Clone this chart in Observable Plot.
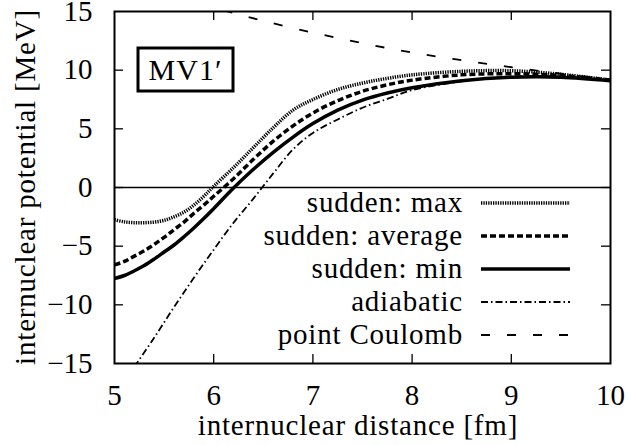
<!DOCTYPE html>
<html><head><meta charset="utf-8">
<script src="https://cdn.jsdelivr.net/npm/d3@7"></script>
<script src="https://cdn.jsdelivr.net/npm/@observablehq/plot@0.6"></script>
<style>
body{margin:0;background:#fff}
#chart svg, #chart svg text { font-family: "Liberation Serif", serif !important; }
</style>
</head><body><div id="chart"></div>
<script>
// ---- data ----
const xTicks = [5, 6, 7, 8, 9, 10];
const yTicks = [-15, -10, -5, 0, 5, 10, 15];

const rSudden = [5.0, 5.1, 5.2, 5.3, 5.4, 5.5, 5.6, 5.7, 5.8, 5.9, 6.0, 6.2, 6.4, 6.6, 6.8, 7.0, 7.25, 7.5, 7.75, 8.0, 8.5, 9.0, 9.5, 10.0];
const vMax     = [-2.75, -2.93, -3.0, -3.0, -2.95, -2.8, -2.5, -2.1, -1.5, -0.75, 0.1, 1.7, 3.4, 5.1, 6.6, 7.5, 8.35, 8.9, 9.3, 9.6, 9.9, 9.95, 9.65, 9.15];
const vAverage = [-6.6, -6.3, -5.85, -5.4, -4.85, -4.25, -3.6, -2.95, -2.2, -1.5, -0.75, 0.75, 2.4, 3.95, 5.25, 6.35, 7.4, 8.2, 8.75, 9.15, 9.6, 9.7, 9.55, 9.15];
const vMin     = [-7.75, -7.5, -7.1, -6.65, -6.1, -5.5, -4.9, -4.2, -3.45, -2.65, -1.8, -0.05, 1.55, 3.0, 4.3, 5.45, 6.6, 7.45, 8.05, 8.5, 9.1, 9.4, 9.4, 9.1];

const rAdiabatic = [5.2, 5.4, 5.6, 5.8, 6.0, 6.2, 6.4, 6.6, 6.8, 7.0, 7.25, 7.5, 7.75, 8.0, 8.5, 9.0, 9.5, 10.0];
const vAdiabatic = [-15.3, -12.8, -10.2, -7.7, -5.3, -3.0, -0.95, 1.2, 3.25, 4.65, 5.8, 6.8, 7.55, 8.3, 9.05, 9.45, 9.45, 9.1];

const rCoulomb = [6.1, 6.5, 7.0, 7.5, 8.0, 8.5, 9.0, 9.5, 10.0];
const vCoulomb = [15.1, 14.2, 13.2, 12.3, 11.5, 10.85, 10.25, 9.7, 9.2];

const seriesNames = ["sudden: max", "sudden: average", "sudden: min", "adiabatic", "point Coulomb"];
const xLabel = "internuclear distance [fm]";
const yLabel = "internuclear potential [MeV]";
const boxLabel = "MV1\u2032";

// ---- styles ----
const styles = {
  "sudden: max":     {strokeWidth: 3.5, strokeDasharray: "1.3,1.1"},
  "sudden: average": {strokeWidth: 3.5, strokeDasharray: "6,3"},
  "sudden: min":     {strokeWidth: 3.5, strokeDasharray: null},
  "adiabatic":       {strokeWidth: 1.8, strokeDasharray: "7,3,1.5,3"},
  "point Coulomb":   {strokeWidth: 1.8, strokeDasharray: "9,17"}
};

const rows = [];
rSudden.forEach((r, i) => rows.push({r, v: vMax[i], s: seriesNames[0]}));
rSudden.forEach((r, i) => rows.push({r, v: vAverage[i], s: seriesNames[1]}));
rSudden.forEach((r, i) => rows.push({r, v: vMin[i], s: seriesNames[2]}));
rAdiabatic.forEach((r, i) => rows.push({r, v: vAdiabatic[i], s: seriesNames[3]}));
rCoulomb.forEach((r, i) => rows.push({r, v: vCoulomb[i], s: seriesNames[4]}));

const W = 631, H = 446, ML = 114, MR = 21, MT = 11, MB = 83;
const FW = W - ML - MR, FH = H - MT - MB;
const FONT = "Liberation Serif, serif";

const lineMarks = seriesNames.map(name => Plot.line(rows.filter(d => d.s === name), {
  x: "r", y: "v", stroke: "black", curve: "catmull-rom", clip: true,
  strokeLinecap: "butt", strokeLinejoin: "round",
  strokeWidth: styles[name].strokeWidth,
  strokeDasharray: styles[name].strokeDasharray || undefined
}));

const plot = Plot.plot({
  width: W, height: H,
  marginLeft: ML, marginRight: MR, marginTop: MT, marginBottom: MB,
  style: {fontFamily: FONT, fontSize: "29px", color: "black", background: "white"},
  x: {domain: [5, 10], ticks: xTicks},
  y: {domain: [-15, 15], ticks: yTicks},
  marks: [
    Plot.ruleY([0], {stroke: "black", strokeWidth: 1.3}),
    ...lineMarks,
    Plot.tickX(xTicks.slice(1, -1), {x: d => d, stroke: "black", strokeWidth: 1.3, insetTop: FH - 9}),
    Plot.tickX(xTicks.slice(1, -1), {x: d => d, stroke: "black", strokeWidth: 1.3, insetBottom: FH - 9}),
    Plot.tickY(yTicks.slice(1, -1), {y: d => d, stroke: "black", strokeWidth: 1.3, insetRight: FW - 9}),
    Plot.tickY(yTicks.slice(1, -1), {y: d => d, stroke: "black", strokeWidth: 1.3, insetLeft: FW - 9}),
    Plot.frame({stroke: "black", strokeWidth: 2}),
    Plot.axisX(xTicks, {tickSize: 0, tickPadding: 21, label: null, fontVariant: "normal"}),
    Plot.axisY(yTicks, {tickSize: 0, tickPadding: 22, label: null, fontVariant: "normal"})
  ]
});

const svg = d3.select(plot);

// axis titles
svg.append("text")
  .attr("x", 358).attr("y", 435)
  .attr("text-anchor", "middle")
  .attr("font-family", FONT).attr("font-size", 29)
  .style("letter-spacing", "0.8px")
  .text(xLabel);
svg.append("text")
  .attr("transform", "translate(35,187) rotate(-90)")
  .attr("text-anchor", "middle")
  .attr("font-family", FONT).attr("font-size", 29)
  .style("letter-spacing", "0.8px")
  .text(yLabel);

// boxed model label
svg.append("rect")
  .attr("x", 138).attr("y", 48).attr("width", 95).attr("height", 43)
  .attr("fill", "white").attr("stroke", "black").attr("stroke-width", 3);
svg.append("text")
  .attr("x", 185.5).attr("y", 69.5).attr("dy", "0.35em")
  .attr("text-anchor", "middle")
  .attr("font-family", FONT).attr("font-size", 30)
  .style("letter-spacing", "1px")
  .text(boxLabel);

// legend
const lg = svg.append("g");
seriesNames.forEach((name, i) => {
  const y = 203 + 33 * i;
  lg.append("text")
    .attr("x", 463).attr("y", y).attr("dy", "0.32em")
    .attr("text-anchor", "end")
    .attr("font-family", FONT).attr("font-size", 29)
    .style("letter-spacing", "0.8px")
    .text(name);
  const st = styles[name];
  const ln = lg.append("line")
    .attr("x1", 481).attr("x2", 570).attr("y1", y).attr("y2", y)
    .attr("stroke", "black").attr("stroke-width", st.strokeWidth);
  if (st.strokeDasharray) ln.attr("stroke-dasharray", st.strokeDasharray);
});

document.getElementById("chart").appendChild(plot);
</script>
</body></html>
